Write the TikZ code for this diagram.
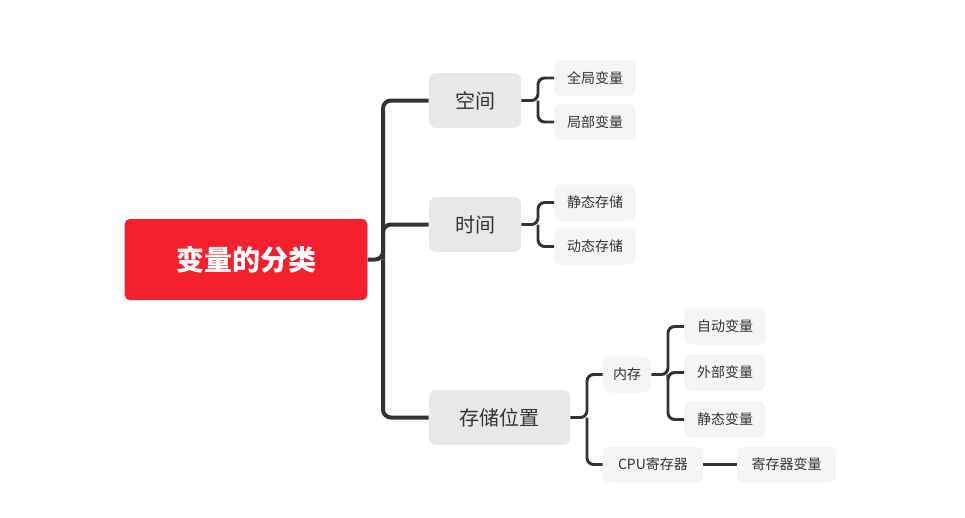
\documentclass[tikz,border=0pt]{standalone}
\usepackage{fontspec}
\setmainfont{Noto Sans CJK SC}
\begin{document}
\begin{tikzpicture}[x=0.75pt,y=-0.75pt,
 lk/.style={draw=black!80,line width=3pt,rounded corners=6pt},
 lk2/.style={draw=black!80,line width=2.2pt,rounded corners=5pt},
 l1/.style={fill=black!9,rounded corners=5pt,inner sep=0pt,font=\fontsize{15}{15}\selectfont,text=black!80},
 l2/.style={fill=black!4,rounded corners=4pt,inner sep=0pt,font=\fontsize{10.5}{10.5}\selectfont,text=black!80}]
\useasboundingbox (0,0) rectangle (965,518);
\node[fill={rgb,255:red,245;green,32;blue,45},rounded corners=4pt,minimum width=182pt,minimum height=61pt,text=white,font=\bfseries\fontsize{21}{21}\selectfont] (root) at (246,259.5) {变量的分类};
\node[l1,minimum width=69pt,minimum height=41pt] (kj) at (475,100.5) {空间};
\node[l1,minimum width=69pt,minimum height=41pt] (sj) at (475,224.5) {时间};
\node[l1,minimum width=106pt,minimum height=41pt] (cc) at (499.5,417.5) {存储位置};
\node[l2,minimum width=61pt,minimum height=27pt] (qj) at (595,78) {全局变量};
\node[l2,minimum width=61pt,minimum height=27pt] (jb) at (595,122) {局部变量};
\node[l2,minimum width=61pt,minimum height=27pt] (jt) at (595,202.5) {静态存储};
\node[l2,minimum width=61pt,minimum height=27pt] (dt) at (595,246.5) {动态存储};
\node[l2,minimum width=36pt,minimum height=27pt] (nc) at (627,374.5) {内存};
\node[l2,minimum width=75pt,minimum height=27pt] (cpu) at (653,464.5) {CPU寄存器};
\node[l2,minimum width=61pt,minimum height=27pt] (zd) at (725,326.5) {自动变量};
\node[l2,minimum width=61pt,minimum height=27pt] (wb) at (725,372.5) {外部变量};
\node[l2,minimum width=61pt,minimum height=27pt] (jtb) at (725,419.5) {静态变量};
\node[l2,minimum width=74pt,minimum height=27pt] (jcq) at (786.5,464.5) {寄存器变量};
\draw[lk] (root.east) -- (383,259.5) |- (kj.west);
\draw[lk] (383,259.5) |- (sj.west);
\draw[lk] (383,259.5) |- (cc.west);
\draw[lk2] (kj.east) -- (538,100.5) |- (qj.west);
\draw[lk2] (538,100.5) |- (jb.west);
\draw[lk2] (sj.east) -- (538,224.5) |- (jt.west);
\draw[lk2] (538,224.5) |- (dt.west);
\draw[lk2] (cc.east) -- (587,417.5) |- (nc.west);
\draw[lk2] (587,417.5) |- (cpu.west);
\draw[lk2] (nc.east) -- (668,374.5) |- (zd.west);
\draw[lk2] (668,374.5) |- (wb.west);
\draw[lk2] (668,374.5) |- (jtb.west);
\draw[lk2] (cpu.east) -- (jcq.west);
\end{tikzpicture}
\end{document}
